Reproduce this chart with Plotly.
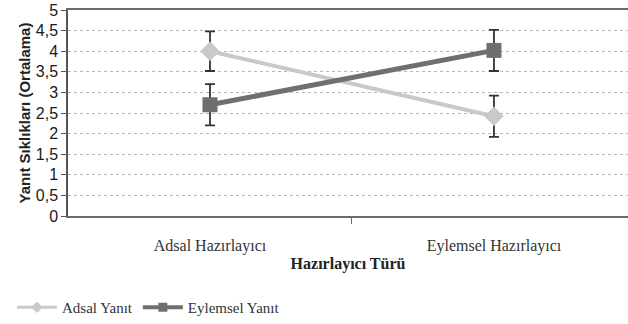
import plotly.graph_objects as go

# Priming type categories and mean response frequencies
categories = ["Adsal Hazırlayıcı", "Eylemsel Hazırlayıcı"]
adsal_mean = [4.0, 2.42]
adsal_err = [0.48, 0.5]
eylemsel_mean = [2.7, 4.02]
eylemsel_err = [0.5, 0.5]
y_ticks = [0, 0.5, 1, 1.5, 2, 2.5, 3, 3.5, 4, 4.5, 5]
y_tick_text = ["0", "0,5", "1", "1,5", "2", "2,5", "3", "3,5", "4", "4,5", "5"]

x_pos = list(range(len(categories)))

light = "#c9c9c9"
dark = "#6f6f6f"
err_color = "#333333"

fig = go.Figure()

fig.add_trace(go.Scatter(
    x=x_pos, y=adsal_mean, name="Adsal Yanıt", showlegend=False,
    mode="lines+markers",
    line=dict(color=light, width=4),
    marker=dict(symbol="diamond", size=15, color=light),
    error_y=dict(type="data", array=adsal_err, visible=True,
                 color=err_color, thickness=1.8, width=5),
))
fig.add_trace(go.Scatter(
    x=x_pos, y=eylemsel_mean, name="Eylemsel Yanıt", showlegend=False,
    mode="lines+markers",
    line=dict(color=dark, width=5),
    marker=dict(symbol="square", size=15, color=dark),
    error_y=dict(type="data", array=eylemsel_err, visible=True,
                 color=err_color, thickness=1.8, width=5),
))

# Legend keys drawn with smaller symbols than the plotted markers
fig.add_trace(go.Scatter(
    x=[None], y=[None], name="Adsal Yanıt", mode="lines+markers",
    line=dict(color=light, width=3),
    marker=dict(symbol="diamond", size=9, color=light),
))
fig.add_trace(go.Scatter(
    x=[None], y=[None], name="Eylemsel Yanıt", mode="lines+markers",
    line=dict(color=dark, width=4),
    marker=dict(symbol="square", size=9, color=dark),
))

serif = "Liberation Serif, Times New Roman, serif"
sans = "Liberation Sans, Arial, sans-serif"

fig.update_layout(
    width=628, height=324,
    margin=dict(l=68, r=0, t=10, b=104),
    paper_bgcolor="white", plot_bgcolor="white",
    showlegend=True,
    legend=dict(orientation="h", x=-0.1, xanchor="left", y=-0.445, yanchor="middle",
                font=dict(family=serif, size=15, color="#333333"),
                itemwidth=40, tracegroupgap=0),
    xaxis=dict(
        range=[-0.5, 1.472],
        tickvals=x_pos, ticktext=categories, ticks="",
        tickfont=dict(family=serif, size=16, color="#333333"),
        ticklabelstandoff=14,
        showgrid=False, zeroline=False,
        showline=True, linecolor="#6a6a6a", linewidth=2, mirror=True,
        minor=dict(tickmode="array", tickvals=[0.5], ticks="outside",
                   ticklen=6, tickcolor="#6a6a6a", tickwidth=1),
        title=dict(text="<b>Hazırlayıcı Türü</b>",
                   font=dict(family=serif, size=16, color="#222222"), standoff=4),
    ),
    yaxis=dict(
        range=[0, 5],
        tickvals=y_ticks, ticktext=y_tick_text,
        ticks="outside", ticklen=5, tickcolor="#555555",
        tickfont=dict(family=sans, size=16, color="#1a1a1a"),
        showgrid=True, gridcolor="#b8b8b8", griddash="dot", gridwidth=1,
        zeroline=False,
        showline=True, linecolor="#555555", linewidth=1.5,
        title=dict(text="<b>Yanıt Sıklıkları (Ortalama)</b>",
                   font=dict(family=sans, size=15, color="#222222"), standoff=2),
    ),
)

fig.write_html("out.html")
